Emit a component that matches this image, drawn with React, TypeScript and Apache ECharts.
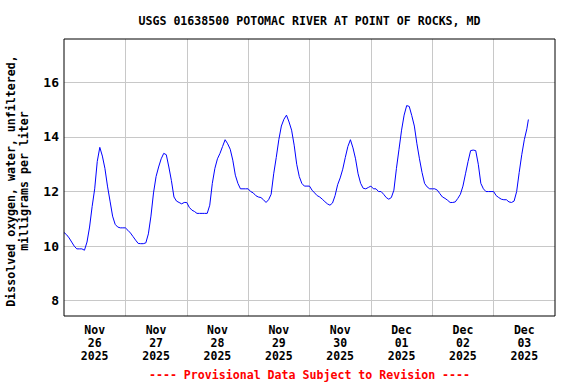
import React, { useEffect, useRef } from "react";
import * as echarts from "echarts";

// Day labels (centred at noon of each day), hours since Nov 26 2025 00:00
const dayLabels = [
  "Nov\n26\n2025",
  "Nov\n27\n2025",
  "Nov\n28\n2025",
  "Nov\n29\n2025",
  "Nov\n30\n2025",
  "Dec\n01\n2025",
  "Dec\n02\n2025",
  "Dec\n03\n2025",
];
const labelHours = [12, 36, 60, 84, 108, 132, 156, 180];
const yTicks = [8, 10, 12, 14, 16];

// Hourly dissolved oxygen (mg/L), starting Nov 26 2025 00:00
const doNov26 = [10.5, 10.42, 10.3, 10.15, 10.0, 9.9, 9.9, 9.9, 9.85, 10.15, 10.7, 11.45, 12.1, 13.1, 13.62, 13.3, 12.85, 12.2, 11.65, 11.1, 10.8, 10.7, 10.67, 10.67];
const doNov27 = [10.67, 10.58, 10.48, 10.35, 10.22, 10.1, 10.09, 10.09, 10.12, 10.45, 11.1, 11.95, 12.55, 12.9, 13.2, 13.4, 13.35, 12.9, 12.4, 11.8, 11.65, 11.6, 11.55, 11.6];
const doNov28 = [11.6, 11.42, 11.32, 11.27, 11.2, 11.2, 11.2, 11.2, 11.2, 11.5, 12.3, 12.85, 13.2, 13.4, 13.65, 13.9, 13.75, 13.55, 13.15, 12.6, 12.3, 12.1, 12.1, 12.1];
const doNov29 = [12.1, 12.0, 11.95, 11.85, 11.8, 11.78, 11.7, 11.6, 11.7, 11.9, 12.65, 13.25, 13.9, 14.4, 14.65, 14.8, 14.55, 14.25, 13.7, 13.0, 12.55, 12.3, 12.2, 12.2];
const doNov30 = [12.2, 12.05, 11.95, 11.85, 11.8, 11.72, 11.63, 11.55, 11.5, 11.58, 11.85, 12.25, 12.5, 12.82, 13.25, 13.65, 13.9, 13.6, 13.2, 12.65, 12.3, 12.12, 12.1, 12.15];
const doDec01 = [12.2, 12.1, 12.1, 12.0, 12.0, 11.9, 11.78, 11.72, 11.78, 12.05, 12.85, 13.55, 14.25, 14.8, 15.15, 15.12, 14.78, 14.4, 13.75, 13.2, 12.7, 12.3, 12.17, 12.1];
const doDec02 = [12.1, 12.1, 12.05, 11.92, 11.8, 11.75, 11.68, 11.6, 11.6, 11.62, 11.75, 11.9, 12.2, 12.65, 13.1, 13.5, 13.52, 13.5, 13.0, 12.3, 12.1, 12.0, 12.0, 12.0];
const doDec03 = [12.0, 11.85, 11.78, 11.72, 11.7, 11.7, 11.62, 11.6, 11.65, 12.0, 12.7, 13.35, 13.9, 14.3];
const lastReading: [number, number] = [181.6, 14.64];

const titleText = "USGS 01638500 POTOMAC RIVER AT POINT OF ROCKS, MD";
const yAxisTitle = "Dissolved oxygen, water, unfiltered,\nmilligrams per liter";
const footerText = "---- Provisional Data Subject to Revision ----";

const FONT = "'DejaVu Sans Mono', 'Liberation Mono', monospace";

export default function App() {
  const ref = useRef<HTMLDivElement>(null);
  useEffect(() => {
    document.body.style.margin = "0";
    if (!ref.current) return;
    const chart = echarts.init(ref.current, undefined, { renderer: "svg" });
    const hourly = [
      ...doNov26, ...doNov27, ...doNov28, ...doNov29,
      ...doNov30, ...doDec01, ...doDec02, ...doDec03,
    ];
    const data: [number, number][] = hourly.map((v, i) => [i, v]);
    data.push(lastReading);

    const plotLeft = 64;
    const plotTop = 39;
    const plotW = 491;
    const plotH = 277;
    const plotCx = plotLeft + plotW / 2;

    chart.setOption({
      animation: false,
      backgroundColor: "#fff",
      grid: {
        left: plotLeft,
        top: plotTop,
        width: plotW,
        height: plotH,
        show: true,
        borderColor: "#000",
        borderWidth: 1,
        backgroundColor: "transparent",
        z: 5,
      },
      xAxis: {
        type: "value",
        min: 0,
        max: 192,
        interval: 24,
        axisLine: { show: false },
        axisTick: { show: false },
        splitLine: {
          show: true,
          showMinLine: false,
          showMaxLine: false,
          lineStyle: { color: "#c8c8c8", width: 1 },
        },
        axisLabel: {
          customValues: labelHours,
          formatter: (v: number) => {
            const idx = labelHours.indexOf(Math.round(v));
            return idx >= 0 ? dayLabels[idx] : "";
          },
          color: "#000",
          fontFamily: FONT,
          fontWeight: "bold",
          fontSize: 11.5,
          lineHeight: 12.7,
          margin: 8,
        },
      },
      yAxis: {
        type: "value",
        min: 7.44,
        max: 17.59,
        axisLine: { show: false },
        axisTick: { show: false, customValues: yTicks },
        splitLine: {
          show: true,
          lineStyle: { color: "#c8c8c8", width: 1 },
        },
        axisLabel: {
          customValues: yTicks,
          color: "#000",
          fontFamily: FONT,
          fontWeight: "bold",
          fontSize: 13,
          margin: 5,
        },
      },
      graphic: [
        {
          type: "text",
          x: plotCx,
          y: 20.5,
          style: {
            text: titleText,
            align: "center",
            verticalAlign: "middle",
            fill: "#000",
            fontFamily: FONT,
            fontWeight: "bold",
            fontSize: 11.6,
          },
        },
        {
          type: "text",
          x: 17.5,
          y: 181,
          rotation: Math.PI / 2,
          style: {
            text: yAxisTitle,
            align: "center",
            verticalAlign: "middle",
            fill: "#000",
            fontFamily: FONT,
            fontWeight: "bold",
            fontSize: 11.6,
            lineHeight: 13,
          },
        },
        {
          type: "text",
          x: plotCx,
          y: 375,
          style: {
            text: footerText,
            align: "center",
            verticalAlign: "middle",
            fill: "#ff0000",
            fontFamily: FONT,
            fontWeight: "bold",
            fontSize: 11.6,
          },
        },
      ],
      series: [
        {
          type: "line",
          data,
          showSymbol: false,
          symbol: "none",
          lineStyle: { color: "#0000ff", width: 1 },
          z: 3,
        },
      ],
    });
    return () => chart.dispose();
  }, []);
  return <div ref={ref} style={{ width: 576, height: 384 }} />;
}
